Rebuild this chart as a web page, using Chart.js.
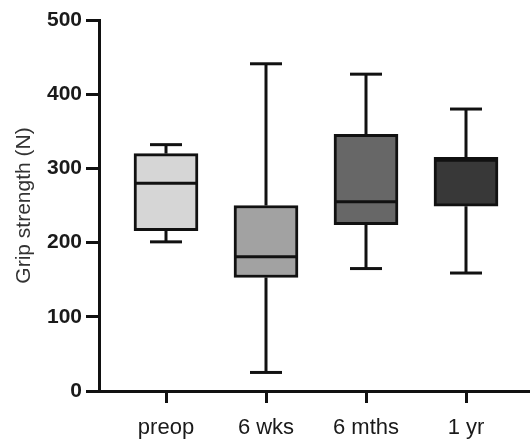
<!DOCTYPE html>
<html>
<head>
<meta charset="utf-8">
<script src="https://cdn.jsdelivr.net/npm/chart.js@4"></script>
<style>
  html, body { margin: 0; padding: 0; background: #fff; }
  #wrap { width: 530px; height: 444px; }
</style>
</head>
<body>
<div id="wrap"><canvas id="gripCanvas"></canvas></div>
<script>
// Grip strength box plots
const groups = ["preop", "6 wks", "6 mths", "1 yr"];
const minVals = [201, 25, 165, 159];
const q1Vals = [216, 153, 224, 249];
const medianVals = [280, 181, 255, 311];
const q3Vals = [320, 250, 346, 315];
const maxVals = [332, 441, 427, 380];
const yTicks = [0, 100, 200, 300, 400, 500];

const fills = ["#d6d6d6", "#a2a2a2", "#676767", "#383838"];

// whiskers, caps and medians drawn from the scales
const whiskerPlugin = {
    id: "whiskers",
    afterDatasetsDraw(chart) {
        const ctx = chart.ctx;
        const xs = chart.scales.x;
        const ys = chart.scales.y;
        ctx.save();
        ctx.strokeStyle = "#111";
        ctx.lineWidth = 3;
        ctx.lineCap = "butt";
        groups.forEach((g, i) => {
            const cx = xs.getPixelForValue(i + 1);
            const half = 16;
            const boxHalf = 32;
            const line = (x1, y1, x2, y2) => {
                ctx.beginPath();
                ctx.moveTo(x1, y1);
                ctx.lineTo(x2, y2);
                ctx.stroke();
            };
            line(cx, ys.getPixelForValue(q3Vals[i]), cx, ys.getPixelForValue(maxVals[i]));
            line(cx, ys.getPixelForValue(q1Vals[i]), cx, ys.getPixelForValue(minVals[i]));
            line(cx - half, ys.getPixelForValue(maxVals[i]), cx + half, ys.getPixelForValue(maxVals[i]));
            line(cx - half, ys.getPixelForValue(minVals[i]), cx + half, ys.getPixelForValue(minVals[i]));
            line(cx - boxHalf, ys.getPixelForValue(medianVals[i]), cx + boxHalf, ys.getPixelForValue(medianVals[i]));
        });
        ctx.restore();
    },
};

const gripChart = new Chart(document.getElementById("gripCanvas"), {
    type: "bar",
    data: {
        datasets: [
            {
                label: "Grip strength",
                data: groups.map((g, i) => ({ x: i + 1, y: [q1Vals[i], q3Vals[i]] })),
                backgroundColor: fills,
                borderColor: "#111",
                borderWidth: 3,
                borderSkipped: false,
                barThickness: 64,
            },
        ],
    },
    options: {
        responsive: true,
        maintainAspectRatio: false,
        animation: false,
        layout: { padding: { top: 20, right: 0, left: 12, bottom: 0 } },
        plugins: {
            legend: { display: false },
            tooltip: { enabled: false },
        },
        scales: {
            x: {
                type: "linear",
                offset: false,
                min: 0.33,
                max: 4.64,
                afterBuildTicks: (scale) => {
                    scale.ticks = groups.map((g, i) => ({ value: i + 1 }));
                },
                afterFit: (scale) => { scale.height = 53; },
                ticks: {
                    callback: (v) => groups[v - 1],
                    color: "#1a1a1a",
                    font: { family: "Liberation Sans", size: 22 },
                    padding: 12,
                    maxRotation: 0,
                },
                grid: {
                    offset: false,
                    drawOnChartArea: false,
                    tickLength: 12,
                    tickWidth: 3,
                    tickColor: "#111",
                },
                border: { color: "#111", width: 3 },
            },
            y: {
                min: 0,
                max: 500,
                afterBuildTicks: (scale) => {
                    scale.ticks = yTicks.map((v) => ({ value: v }));
                },
                afterFit: (scale) => { scale.width = 87; },
                ticks: {
                    color: "#1a1a1a",
                    font: { family: "Liberation Sans", size: 21, weight: "bold" },
                    padding: 4,
                },
                grid: {
                    drawOnChartArea: false,
                    tickLength: 13,
                    tickWidth: 3,
                    tickColor: "#111",
                },
                border: { color: "#111", width: 3 },
                title: {
                    display: true,
                    text: "Grip strength (N)",
                    color: "#333",
                    font: { family: "Liberation Sans", size: 21 },
                    padding: { top: 0, bottom: 4 },
                },
            },
        },
    },
    plugins: [whiskerPlugin],
});
</script>
</body>
</html>
